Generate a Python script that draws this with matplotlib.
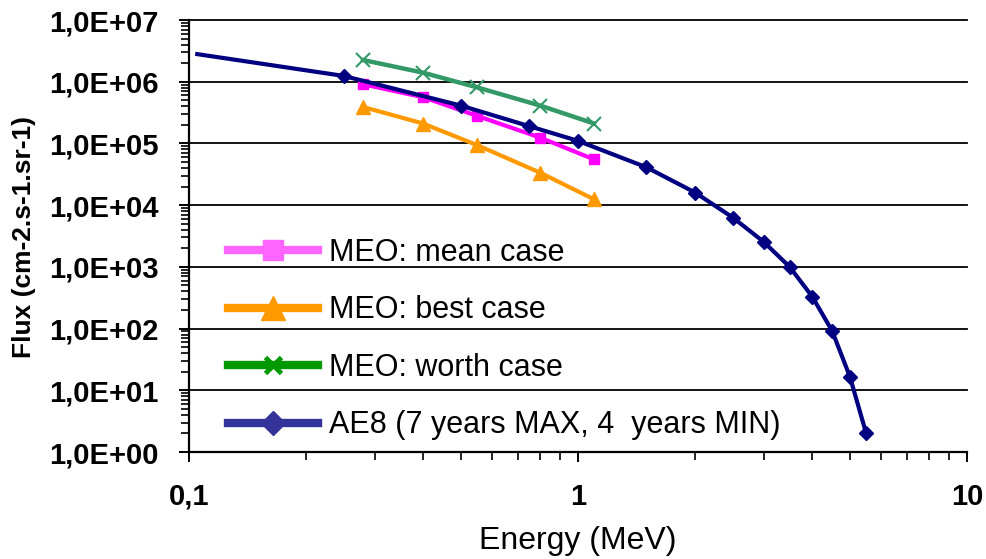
import math
import matplotlib
matplotlib.use("Agg")
import matplotlib.pyplot as plt
from matplotlib.lines import Line2D
from matplotlib.ticker import FixedLocator, FuncFormatter, LogLocator, NullFormatter

plt.rcParams['font.family'] = ['Liberation Sans', 'DejaVu Sans']

# AE8 electron spectrum (7 years MAX, 4 years MIN)
ae8_energy = [0.105, 0.25, 0.5, 0.75, 1.0, 1.5, 2.0, 2.5, 3.0, 3.5, 4.0, 4.5, 5.0, 5.5]
ae8_flux = [2.8e6, 1.24e6, 4.1e5, 1.9e5, 1.1e5, 4.1e4, 1.6e4, 6.3e3, 2.55e3, 1.0e3,
            3.3e2, 9.2e1, 1.66e1, 2.05]

# MEO cases
meo_energy = [0.28, 0.4, 0.55, 0.8, 1.1]
meo_mean = [9.1e5, 5.6e5, 2.8e5, 1.24e5, 5.5e4]
meo_best = [3.9e5, 2.1e5, 9.4e4, 3.35e4, 1.24e4]
meo_worst = [2.25e6, 1.4e6, 8.1e5, 4.1e5, 2.1e5]

legend_labels = ["MEO: mean case", "MEO: best case", "MEO: worth case",
                 "AE8 (7 years MAX, 4  years MIN)"]

x_ticks = [0.1, 1, 10]
x_tick_labels = ["0,1", "1", "10"]
y_exponents = [0, 1, 2, 3, 4, 5, 6, 7]

fig = plt.figure(figsize=(9.87, 5.59), dpi=100)
ax = fig.add_axes([189 / 987, 1 - 452 / 559, (967 - 189) / 987, (452 - 20) / 559])

ax.set_xscale('log')
ax.set_yscale('log')
ax.set_xlim(0.1, 10)
ax.set_ylim(1, 1e7)

ax.plot(meo_energy, meo_mean, color='#FF00FF', lw=3, marker='s', ms=7,
        mec='#FF00FF', mfc='#FF00FF', zorder=3)
ax.plot(meo_energy, meo_best, color='#FF9900', lw=3, marker='^', ms=10,
        mec='#FF9900', mfc='#FF9900', zorder=3)
ax.plot(meo_energy, meo_worst, color='#339966', lw=3.2, marker='x', ms=10,
        mew=1.5, mec='#339966', zorder=3)
ax.plot(ae8_energy, ae8_flux, color='#000080', lw=3, marker='D', ms=7,
        mec='#000080', mfc='#000080', markevery=list(range(1, len(ae8_energy))),
        zorder=4)

# axes styling
for side in ('top', 'right'):
    ax.spines[side].set_visible(False)
for side in ('left', 'bottom'):
    ax.spines[side].set_linewidth(1.6)
    ax.spines[side].set_color('black')

ax.yaxis.set_major_locator(FixedLocator([10.0 ** e for e in y_exponents]))
ax.yaxis.set_major_formatter(FuncFormatter(lambda v, p: "1,0E+%02d" % round(math.log10(v))))
ax.yaxis.set_minor_locator(LogLocator(base=10, subs=range(2, 10), numticks=20))
ax.yaxis.set_minor_formatter(NullFormatter())

ax.xaxis.set_major_locator(FixedLocator(x_ticks))
ax.xaxis.set_major_formatter(FuncFormatter(
    lambda v, p: x_tick_labels[min(range(len(x_ticks)), key=lambda i: abs(math.log10(x_ticks[i]) - math.log10(v)))]))
ax.xaxis.set_minor_locator(LogLocator(base=10, subs=range(2, 10), numticks=20))
ax.xaxis.set_minor_formatter(NullFormatter())

ax.tick_params(which='major', direction='out', length=7.2, width=1.4, color='black')
ax.tick_params(which='minor', direction='out', length=5.5, width=1.2, color='black')
ax.tick_params(axis='y', which='major', pad=15, labelsize=21)
ax.tick_params(axis='x', which='major', pad=15, labelsize=21)
for lab in ax.get_xticklabels() + ax.get_yticklabels():
    lab.set_fontweight('bold')

ax.yaxis.grid(True, which='major', color='black', lw=1.3)
for gl in ax.get_ygridlines():
    gl.set_clip_on(False)
ax.set_axisbelow(True)

ax.set_ylabel("Flux (cm-2.s-1.sr-1)", fontsize=19, fontweight='bold')
ax.yaxis.set_label_coords(-0.197, 0.498)
ax.set_xlabel("Energy (MeV)", fontsize=23)
ax.xaxis.set_label_coords(0.5, -0.172)

handles = [
    Line2D([], [], color='#FF66FF', lw=6, marker='s', ms=14, mfc='#FF66FF', mec='#FF66FF'),
    Line2D([], [], color='#FF9900', lw=6, marker='^', ms=17, mfc='#FF9900', mec='#FF9900'),
    Line2D([], [], color='#009900', lw=6, marker='x', ms=11, mew=3.5, mec='#009900'),
    Line2D([], [], color='#333399', lw=6, marker='D', ms=12, mfc='#333399', mec='#333399'),
]
leg = ax.legend(handles, legend_labels, loc='upper left',
                bbox_to_anchor=(228 / 987, 1 - 238 / 559), bbox_transform=fig.transFigure,
                frameon=False, fontsize=22, handlelength=2.95, handletextpad=0.36,
                labelspacing=0.9, borderpad=0, borderaxespad=0)

fig.savefig("out.png", dpi=100)
